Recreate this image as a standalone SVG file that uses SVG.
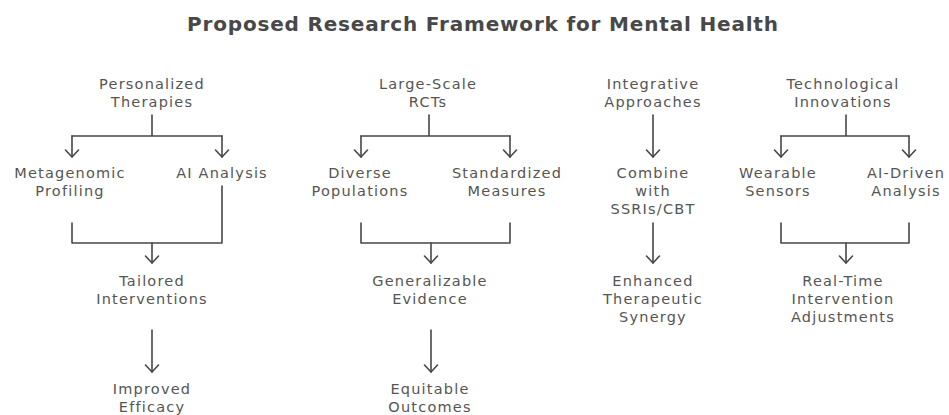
<svg xmlns="http://www.w3.org/2000/svg" width="949" height="415" viewBox="0 0 949 415">
  <style>
    .title { font-family: "DejaVu Sans", "Liberation Sans", sans-serif; font-size: 20px; font-weight: bold; fill: #484848; }
    .lbl { font-family: "DejaVu Sans", "Liberation Sans", sans-serif; font-size: 14.5px; letter-spacing: 1.2px; fill: #555555; text-anchor: middle; }
    .wire { fill: none; stroke: #474747; stroke-width: 1.6; stroke-linecap: round; stroke-linejoin: round; }
    .arrow { marker-end: url(#head); }
  </style>
  <defs>
    <!-- open V head, drawn pointing along +x so orient="auto" turns it with the line -->
    <marker id="head" markerUnits="userSpaceOnUse" markerWidth="10" markerHeight="16" refX="8" refY="7" orient="auto" viewBox="0 0 10 14">
      <path d="M1,0.5 L8,7 L1,13.5" fill="none" stroke="#474747" stroke-width="1.6" stroke-linecap="round" stroke-linejoin="round"/>
    </marker>
  </defs>

  <rect width="949" height="415" fill="#ffffff"/>

  <text class="title" x="187" y="31" textLength="591" lengthAdjust="spacing">Proposed Research Framework for Mental Health</text>

  <!-- connectors -->
  <g id="connectors">
    <!-- personalized therapies branch -->
    <path class="wire" d="M152,115 V136 M72,136 H222"/>
    <path class="wire arrow" d="M72,136 V157"/>
    <path class="wire arrow" d="M222,136 V157"/>
    <path class="wire" d="M72,223 V243 H222 V186"/>
    <path class="wire arrow" d="M152,243 V263"/>
    <path class="wire arrow" d="M152,330 V372"/>

    <!-- large-scale RCT branch -->
    <path class="wire" d="M429,115 V136 M361,136 H510"/>
    <path class="wire arrow" d="M361,136 V157"/>
    <path class="wire arrow" d="M510,136 V157"/>
    <path class="wire" d="M361,223 V243 H510 V223"/>
    <path class="wire arrow" d="M431,243 V263"/>
    <path class="wire arrow" d="M431,330 V372"/>

    <!-- integrative approaches branch -->
    <path class="wire arrow" d="M653,115 V157"/>
    <path class="wire arrow" d="M653,223 V263"/>

    <!-- technological innovations branch -->
    <path class="wire" d="M846,115 V136 M781,136 H909"/>
    <path class="wire arrow" d="M781,136 V157"/>
    <path class="wire arrow" d="M909,136 V157"/>
    <path class="wire" d="M781,223 V243 H909 V223"/>
    <path class="wire arrow" d="M846,243 V263"/>
  </g>

  <!-- column 1 -->
  <g id="personalized-therapies"><text class="lbl" x="152" y="89">Personalized</text><text class="lbl" x="152" y="107">Therapies</text></g>
  <g id="metagenomic-profiling"><text class="lbl" x="70" y="178">Metagenomic</text><text class="lbl" x="70" y="196">Profiling</text></g>
  <g id="ai-analysis"><text class="lbl" x="222" y="178">AI Analysis</text></g>
  <g id="tailored-interventions"><text class="lbl" x="152" y="286">Tailored</text><text class="lbl" x="152" y="304">Interventions</text></g>
  <g id="improved-efficacy"><text class="lbl" x="152" y="394">Improved</text><text class="lbl" x="152" y="412">Efficacy</text></g>

  <!-- column 2 -->
  <g id="large-scale-rcts"><text class="lbl" x="428" y="89">Large-Scale</text><text class="lbl" x="428" y="107">RCTs</text></g>
  <g id="diverse-populations"><text class="lbl" x="360" y="178">Diverse</text><text class="lbl" x="360" y="196">Populations</text></g>
  <g id="standardized-measures"><text class="lbl" x="507" y="178">Standardized</text><text class="lbl" x="507" y="196">Measures</text></g>
  <g id="generalizable-evidence"><text class="lbl" x="430" y="286">Generalizable</text><text class="lbl" x="430" y="304">Evidence</text></g>
  <g id="equitable-outcomes"><text class="lbl" x="430" y="394">Equitable</text><text class="lbl" x="430" y="412">Outcomes</text></g>

  <!-- column 3 -->
  <g id="integrative-approaches"><text class="lbl" x="653" y="89">Integrative</text><text class="lbl" x="653" y="107">Approaches</text></g>
  <g id="combine-ssris-cbt"><text class="lbl" x="653" y="178">Combine</text><text class="lbl" x="653" y="196">with</text><text class="lbl" x="653" y="214">SSRIs/CBT</text></g>
  <g id="enhanced-synergy"><text class="lbl" x="653" y="286">Enhanced</text><text class="lbl" x="653" y="304">Therapeutic</text><text class="lbl" x="653" y="322">Synergy</text></g>

  <!-- column 4 -->
  <g id="technological-innovations"><text class="lbl" x="843" y="89">Technological</text><text class="lbl" x="843" y="107">Innovations</text></g>
  <g id="wearable-sensors"><text class="lbl" x="778" y="178">Wearable</text><text class="lbl" x="778" y="196">Sensors</text></g>
  <g id="ai-driven-analysis"><text class="lbl" x="906" y="178">AI-Driven</text><text class="lbl" x="906" y="196">Analysis</text></g>
  <g id="real-time-adjustments"><text class="lbl" x="843" y="286">Real-Time</text><text class="lbl" x="843" y="304">Intervention</text><text class="lbl" x="843" y="322">Adjustments</text></g>
</svg>
